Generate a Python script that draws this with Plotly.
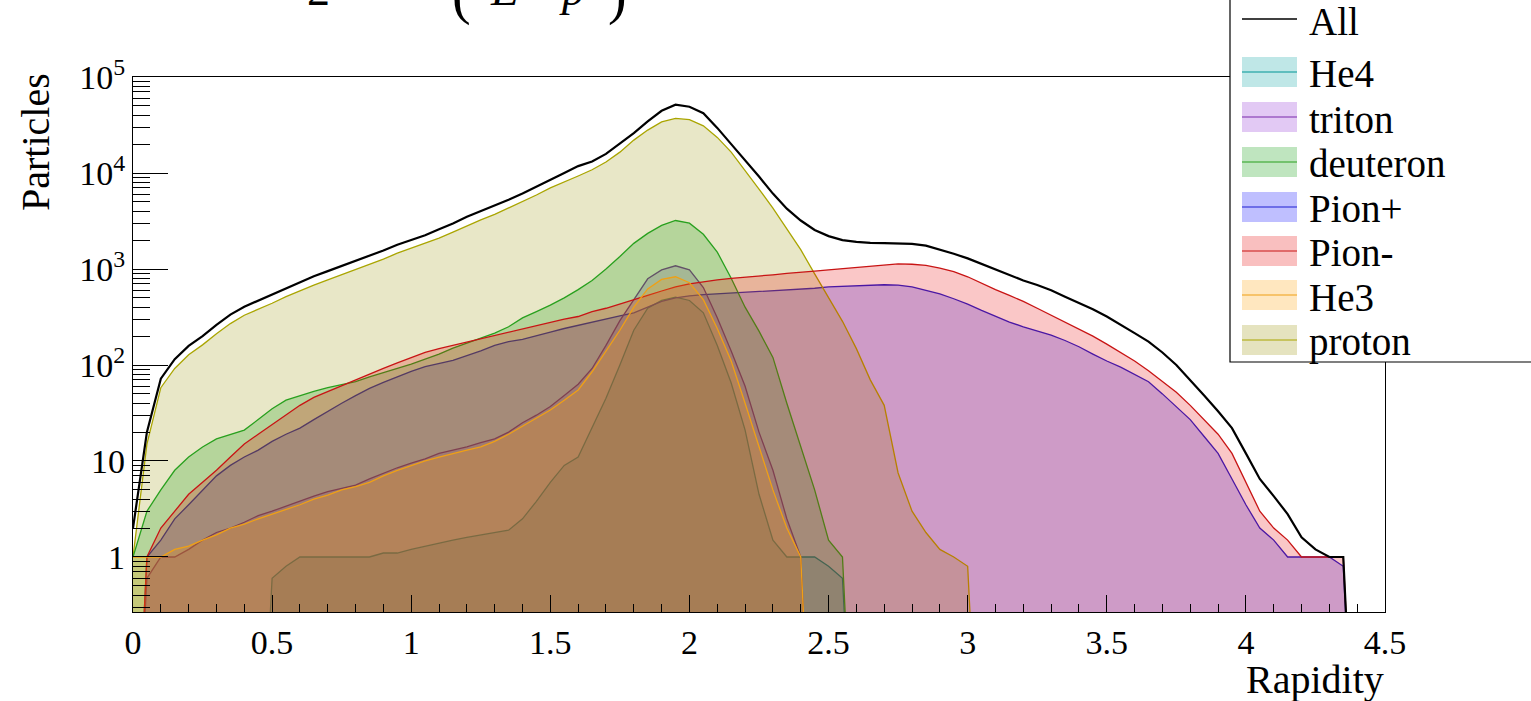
import plotly.graph_objects as go

# ---------------- data ----------------
rapidity = [round(0.05 * i, 2) for i in range(91)]   # bin positions 0 .. 4.5

all_particles = [2, 20, 72, 115, 158, 200, 262, 335, 405, 470,
                 545, 635, 735, 840, 950, 1075, 1210, 1365, 1560, 1790,
                 2010, 2250, 2590, 2980, 3500, 4000, 4550, 5250, 6100, 7150,
                 8500, 10000, 11800, 13200, 15800, 20200, 26000, 34500, 44500, 51500,
                 49000, 42000, 29500, 20000, 13700, 9200, 6100, 4250, 3200, 2550,
                 2200, 2000, 1920, 1870, 1860, 1850, 1830, 1750, 1600, 1440,
                 1290, 1130, 990, 860, 760, 680, 600, 515, 445, 380,
                 320, 265, 215, 175, 135, 100, 70, 48, 33, 22,
                 12, 6.5, 4.3, 2.8, 1.6, 1.2, 1, 1, 0, 0, 0]

proton = [1, 15, 58, 92, 128, 162, 212, 270, 330, 380,
          440, 515, 595, 680, 770, 870, 985, 1110, 1270, 1460,
          1650, 1830, 2100, 2420, 2820, 3250, 3700, 4300, 5000, 5900,
          7000, 8000, 9300, 10800, 13000, 16500, 22000, 28000, 34000, 37000,
          36000, 31000, 23500, 16500, 10700, 6800, 4300, 2650, 1590, 890,
          500, 285, 148, 70, 38, 7.5, 3, 1.8, 1.2, 1,
          0.8] + [0] * 30

deuteron = [1, 3, 5, 8, 11, 14, 17, 19, 21, 27,
            35, 43, 48, 53, 58, 62, 67, 75, 83, 92,
            102, 115, 130, 150, 170, 190, 215, 250, 310, 360,
            420, 500, 610, 760, 1000, 1350, 1850, 2350, 2850, 3200,
            3000, 2300, 1500, 800, 400, 225, 120, 40, 14, 5,
            1.5, 1] + [0] * 39

triton = [0, 0.6, 1, 1, 1.2, 1.5, 1.8, 2, 2.3, 2.7,
          3, 3.4, 3.8, 4.3, 4.8, 5.2, 5.6, 6.5, 7.5, 8.5,
          9.5, 10.5, 12, 13, 14, 15.5, 17, 20, 25, 30,
          37, 48, 63, 92, 160, 290, 480, 790, 980, 1080,
          980, 640, 310, 140, 60, 20, 8, 2.5, 1] + [0] * 42

he3 = [1, 1, 1, 1.2, 1.3, 1.5, 1.7, 2, 2.2, 2.5,
       2.8, 3.1, 3.5, 4, 4.4, 5, 5.4, 6, 7, 8,
       9, 10, 11, 12, 13, 14, 16, 19, 23, 28,
       34, 43, 55, 85, 140, 230, 400, 620, 780, 830,
       720, 480, 240, 110, 40, 14, 5, 2, 1] + [0] * 42

he4 = [0] * 10 + [0.6, 0.8, 1, 1, 1, 1, 1, 1, 1.1, 1.1,
                  1.2, 1.3, 1.4, 1.5, 1.6, 1.7, 1.8, 1.9, 2.5, 3.8,
                  6, 9, 11, 22, 45, 100, 230, 390, 470, 510,
                  470, 350, 160, 65, 21, 4.5, 1.5, 1, 1, 1,
                  0.8, 0.6] + [0] * 39

pion_minus = [0, 1, 2, 3, 4.5, 6, 8, 11, 15, 19,
              24, 30, 38, 46, 53, 61, 70, 80, 92, 105,
              118, 135, 148, 160, 175, 190, 205, 220, 240, 260,
              280, 300, 320, 360, 390, 430, 480, 530, 590, 650,
              700, 740, 770, 800, 820, 850, 870, 900, 920, 950,
              980, 1010, 1050, 1080, 1100, 1130, 1120, 1090, 1020, 940,
              830, 710, 610, 530, 460, 390, 330, 280, 235, 200,
              165, 135, 110, 87, 68, 52, 38, 27, 19, 12,
              6, 3, 2, 1.5, 1, 1, 1, 1, 0, 0, 0]

pion_plus = [0, 1, 1.5, 2.5, 3.5, 5, 7, 9, 11, 13,
             16, 19, 22, 27, 33, 40, 48, 57, 66, 76,
             86, 96, 104, 112, 125, 140, 160, 175, 185, 200,
             220, 240, 260, 280, 305, 325, 350, 400, 460, 500,
             525, 540, 550, 555, 565, 575, 590, 600, 610, 630,
             650, 660, 670, 680, 685, 680, 650, 600, 550, 490,
             430, 370, 320, 280, 250, 225, 205, 180, 155, 130,
             110, 95, 80, 67, 50, 37, 27, 18, 12, 6.5,
             3.5, 2, 1.5, 1, 1, 1, 1, 0.8, 0, 0, 0]

legend_names = ["He4", "triton", "deuteron", "Pion+", "Pion-", "He3", "proton"]
y_ticks = [1, 10, 100, 1000, 10000, 100000]
y_tick_text = ["1", "10", "10<sup>2</sup>", "10<sup>3</sup>", "10<sup>4</sup>", "10<sup>5</sup>"]
x_ticks = [0, 0.5, 1, 1.5, 2, 2.5, 3, 3.5, 4, 4.5]
x_tick_text = ["0", "0.5", "1", "1.5", "2", "2.5", "3", "3.5", "4", "4.5"]

# ---------------- styling ----------------
W, H = 1531, 701
L, R, T, B = 133, 146, 77, 89
FONT = "Liberation Serif"
ALPHA = 0.22

style = {
    "He4":      ((0, 160, 160), (0, 150, 150)),
    "triton":   ((140, 40, 210), (120, 40, 170)),
    "deuteron": ((0, 150, 0), (40, 160, 30)),
    "Pion+":    ((0, 0, 255), (30, 30, 210)),
    "Pion-":    ((230, 0, 0), (200, 20, 20)),
    "He3":      ((255, 160, 0), (240, 160, 20)),
    "proton":   ((150, 145, 0), (170, 165, 0)),
}
series = {
    "He4": he4, "triton": triton, "deuteron": deuteron, "Pion+": pion_plus,
    "Pion-": pion_minus, "He3": he3, "proton": proton,
}

def floor0(vals):
    return [v if v > 0 else 1e-3 for v in vals]

def rgba(c, a):
    return f"rgba({c[0]},{c[1]},{c[2]},{a})"

fig = go.Figure()
draw_order = ["He4", "Pion+", "triton", "proton", "deuteron", "Pion-", "He3"]
for name in draw_order:
    fc, lc = style[name]
    fig.add_trace(go.Scatter(
        x=rapidity, y=floor0(series[name]), mode="lines", name=name,
        line=dict(color=rgba(lc, 1), width=1.3),
        fill="tozeroy", fillcolor=rgba(fc, ALPHA), showlegend=False,
    ))
fig.add_trace(go.Scatter(
    x=rapidity, y=floor0(all_particles), mode="lines", name="All",
    line=dict(color="black", width=2.2), showlegend=False,
))

pw, ph = W - L - R, H - T - B
def px(x):
    return (x - L) / pw
def py(y):
    return (H - B - y) / ph

fig.update_layout(
    width=W, height=H,
    margin=dict(l=L, r=R, t=T, b=B, pad=0),
    paper_bgcolor="white", plot_bgcolor="white",
    font=dict(family=FONT, color="black"),
    xaxis=dict(
        range=[0, 4.5], showgrid=False, zeroline=False,
        showline=True, mirror=True, linecolor="black", linewidth=1.2,
        ticks="inside", ticklen=17, tickwidth=1, tickcolor="black",
        tickvals=x_ticks, ticktext=x_tick_text, tickfont=dict(size=34),
        minor=dict(ticks="inside", ticklen=8, dtick=0.1, tickcolor="black", tickwidth=1),
    ),
    yaxis=dict(
        type="log", range=[-0.573, 5], showgrid=False, zeroline=False,
        showline=True, mirror=True, linecolor="black", linewidth=1.2,
        ticks="inside", ticklen=35, tickwidth=1, tickcolor="black",
        tickvals=y_ticks, ticktext=y_tick_text, tickfont=dict(size=34),
        minor=dict(ticks="inside", ticklen=17, dtick="D1", tickcolor="black", tickwidth=1),
    ),
)

# axis titles (ROOT places them at the axis end)
fig.add_annotation(xref="paper", yref="paper", x=px(1386), y=py(679),
                   text="Rapidity", showarrow=False, xanchor="right", yanchor="middle",
                   font=dict(size=40, family=FONT))
fig.add_annotation(xref="paper", yref="paper", x=px(35), y=py(142),
                   text="Particles", showarrow=False, textangle=-90,
                   xanchor="center", yanchor="middle", font=dict(size=40, family=FONT))

# partially visible formula title at the top
for txt, xc, ybot, size in [("2", 318, 17, 46), ("(", 461, 28, 56), ("<i>E</i>", 505, 17, 46),
                            ("−", 538, 17, 46), ("<i>p</i>", 572, 17, 46), (")", 617, 28, 56)]:
    fig.add_annotation(xref="paper", yref="paper", x=px(xc), y=py(ybot), text=txt,
                       showarrow=False, xanchor="center", yanchor="bottom",
                       font=dict(size=size, family=FONT))

# legend box (ROOT TLegend, partly off-canvas)
fig.add_shape(type="rect", xref="paper", yref="paper",
              x0=px(1230), x1=px(1600), y0=py(362), y1=py(-50),
              fillcolor="white", line=dict(color="black", width=1.2), layer="above")
legend_rows = [("All", 19)] + list(zip(legend_names, [72, 117, 162, 207, 251, 295, 340]))
for name, yc in legend_rows:
    if name == "All":
        lc = (0, 0, 0)
        lw = 1.5
    else:
        fc, lc = style[name]
        lw = 1.2
        fig.add_shape(type="rect", xref="paper", yref="paper",
                      x0=px(1242), x1=px(1297), y0=py(yc + 15), y1=py(yc - 15),
                      fillcolor=rgba(fc, 0.25), line=dict(width=0), layer="above")
    fig.add_shape(type="line", xref="paper", yref="paper",
                  x0=px(1242), x1=px(1297), y0=py(yc), y1=py(yc),
                  line=dict(color=rgba(lc, 1), width=lw), layer="above")
    fig.add_annotation(xref="paper", yref="paper", x=px(1307), y=py(yc + 2),
                       text=name, showarrow=False, xanchor="left", yanchor="middle",
                       font=dict(size=39, family=FONT))

fig.write_html("out.html")
